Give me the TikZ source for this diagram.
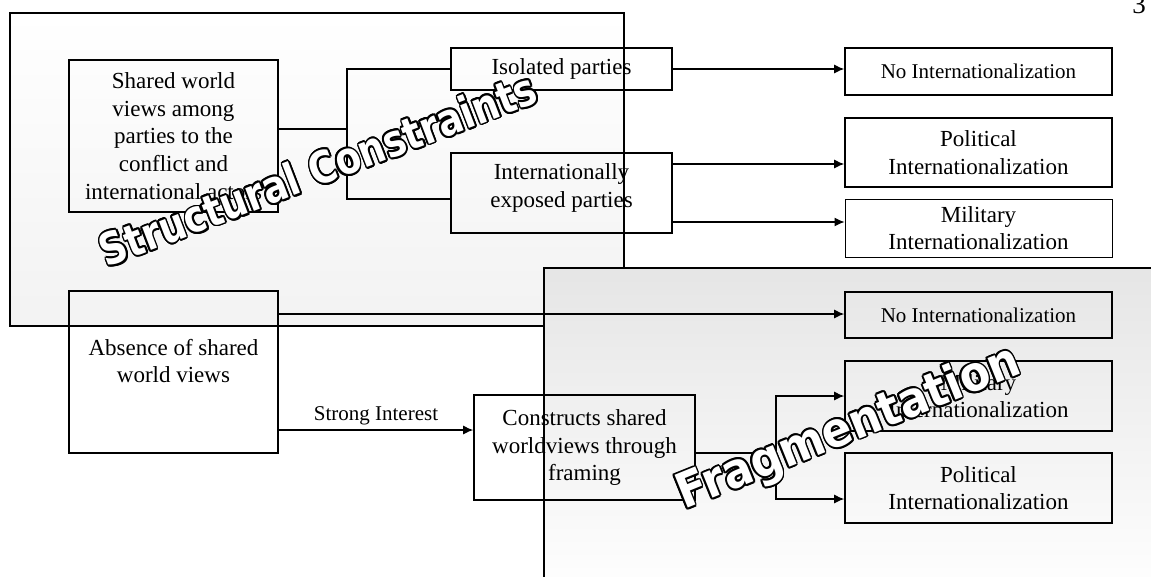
\documentclass[tikz,border=0pt]{standalone}
\usepackage{fontspec}
\setmainfont{Liberation Serif}
\newfontfamily\wordartfont{DejaVu Sans}
\usepackage{contour}
\contourlength{1.6pt}
\usetikzlibrary{arrows.meta,positioning}

\begin{document}
\begin{tikzpicture}[x=1pt,y=-1pt,
    box/.style={draw,line width=1.6pt,align=center,inner sep=0pt,font=\fontsize{23}{27.6}\selectfont},
    smallbox/.style={box,font=\fontsize{21}{25}\selectfont},
    boxtext/.style={align=center,inner sep=0pt,font=\fontsize{23}{27.6}\selectfont},
    link/.style={line width=1.2pt},
    arr/.style={link,-{Latex[length=10pt,width=9pt]}},
    region/.style={draw,line width=1.6pt},
    wordart/.style={font=\wordartfont\bfseries\fontsize{#1}{#1}\selectfont,text=white,inner sep=0pt}]

    \useasboundingbox (0,0) rectangle (1151,576);
    \clip (0,0) rectangle (1151,576);

    % shaded regions
    \draw[region,top color=white,bottom color=black!5] (10,13) rectangle (624,326);
    \draw[region,top color=black!10,bottom color=white] (544,268) rectangle (1170,600);

    \node[font=\fontsize{27}{27}\selectfont,anchor=base] (pagenum) at (1139,13) {3};

    % upper part
    \node[box,minimum width=209pt,minimum height=152pt] (shared) at (173.5,136) {Shared world\\views among\\parties to the\\conflict and\\international actors};
    \node[box,minimum width=221pt,minimum height=42pt] (isolated) at (561.5,69) {Isolated parties};
    \node[box,minimum width=221pt,minimum height=80pt] (exposed) at (561.5,193) {};
    \node[boxtext] (exposedtext) at ([yshift=5pt]exposed.center) {Internationally\\exposed parties};
    \node[smallbox,minimum width=267pt,minimum height=47pt] (noneA) at (978.5,71.5) {No Internationalization};
    \node[box,minimum width=267pt,minimum height=69pt] (politA) at (978.5,152.5) {Political\\Internationalization};
    \node[box,line width=0.9pt,minimum width=267pt,minimum height=58pt] (miliA) at (978.5,228) {Military\\Internationalization};

    % lower part
    \node[box,minimum width=209pt,minimum height=162pt] (absence) at (173.5,372) {};
    \node[boxtext] (absencetext) at ([yshift=11pt]absence.center) {Absence of shared\\world views};
    \node[box,minimum width=221pt,minimum height=105pt] (frame) at (584.5,447.5) {Constructs shared\\worldviews through\\framing};
    \node[smallbox,minimum width=267pt,minimum height=46pt] (noneB) at (978.5,315) {No Internationalization};
    \node[box,minimum width=267pt,minimum height=70pt] (miliB) at (978.5,396) {Military\\Internationalization};
    \node[box,minimum width=267pt,minimum height=70pt] (politB) at (978.5,488) {Political\\Internationalization};

    % connectors
    \coordinate (forkA) at (347,129);
    \draw[link] (shared.east |- forkA) -- (forkA);
    \draw[link] (isolated.west) -| (forkA) |- ([yshift=-6pt]exposed.west);
    \draw[arr] (isolated.east) -- (isolated.east -| noneA.west);
    \coordinate (outP) at ([yshift=29pt]exposed.east);
    \coordinate (outM) at ([yshift=-29pt]exposed.east);
    \draw[arr] (outP) -- (outP -| politA.west);
    \draw[arr] (outM) -- (outM -| miliA.west);

    \coordinate (outNone) at ([yshift=58pt]absence.east);
    \coordinate (outStrong) at ([yshift=-58pt]absence.east);
    \draw[arr] (outNone) -- (outNone -| noneB.west);
    \draw[arr] (outStrong) -- node[above,inner sep=4pt,font=\fontsize{21}{25}\selectfont] {Strong Interest} (outStrong -| frame.west);
    \coordinate (forkB) at (776,453);
    \draw[link] (frame.east |- forkB) -- (forkB);
    \draw[arr] (forkB) |- (miliB.west);
    \draw[arr] (forkB) |- ([yshift=-11pt]politB.west);

    % watermarks
    \node[wordart=37,rotate=21,yscale=1.2] (structural) at (318,170) {\contour{black}{Structural Constraints}};
    \node[wordart=44,rotate=22,yscale=1.1] (fragment) at (849,430) {\contour{black}{Fragmentation}};
\end{tikzpicture}
\end{document}
